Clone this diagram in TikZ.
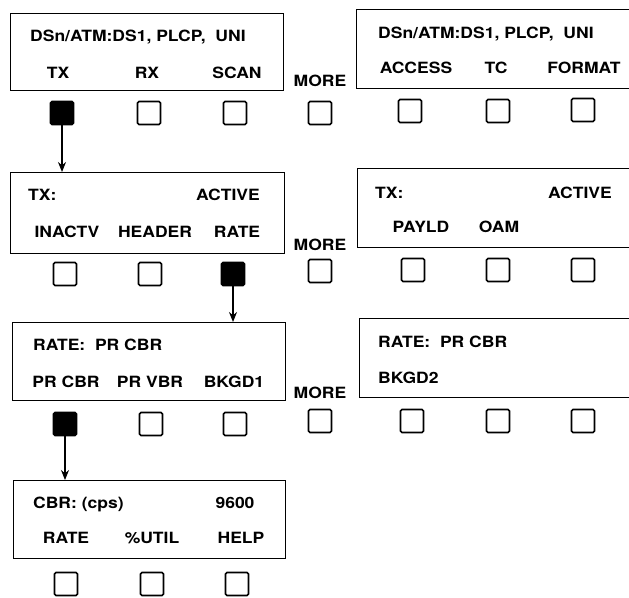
\documentclass[tikz,border=0pt]{standalone}
\usepackage{fontspec}
\setmainfont{TeX Gyre Heros}[BoldFeatures={FakeStretch=1.13}]
\usetikzlibrary{arrows.meta,positioning}

\tikzset{
  panel/.style={draw, line width=1.3pt, inner sep=0pt, anchor=north west},
  softkey/.style={draw, line width=1.6pt, rounded corners=1.5pt, minimum size=23pt, inner sep=0pt},
  pressed/.style={softkey, fill=black},
  lbl/.style={font=\fontsize{15.5}{18}\selectfont\bfseries, inner sep=0pt, anchor=base},
}

\begin{document}
\begin{tikzpicture}[x=1pt, y=-1pt, >={Stealth[length=10pt,width=8pt]}]
    \path[use as bounding box] (0,0) rectangle (629,597);
    \clip (0,0) rectangle (629,597);

    % Top level screen
    \node[panel, minimum width=273pt, minimum height=77pt] (p1) at (10,13) {};
    \node[lbl, anchor=base west] (p1t) at (30,41) {DSn/ATM:DS1, PLCP,\ \ UNI};
    \node[lbl] (p1a) at (58,78) {TX};
    \node[lbl] (p1b) at (147,78) {RX};
    \node[lbl] (p1c) at (237,78) {SCAN};
    \node[pressed] (k1a) at (62,113) {};
    \node[softkey] (k1b) at (149,113) {};
    \node[softkey] (k1c) at (235,113) {};

    \node[lbl] (m1) at (320,86) {MORE};
    \node[softkey] (km1) at (320,113) {};

    \node[panel, minimum width=300pt, minimum height=79pt] (p1r) at (356,9) {};
    \node[lbl, anchor=base west] (p1rt) at (378,38) {DSn/ATM:DS1, PLCP,\ \ UNI};
    \node[lbl] (p1rd) at (416,73) {ACCESS};
    \node[lbl] (p1re) at (496,73) {TC};
    \node[lbl] (p1rf) at (584,73) {FORMAT};
    \node[softkey] (k1d) at (410,111) {};
    \node[softkey] (k1e) at (498,111) {};
    \node[softkey] (k1f) at (583,110) {};

    % TX screen
    \node[panel, minimum width=274pt, minimum height=81pt] (p2) at (10,172) {};
    \node[lbl, anchor=base west] (p2t) at (28,200) {TX:};
    \node[lbl, anchor=base east] (p2s) at (260,200) {ACTIVE};
    \node[lbl] (p2a) at (67,237) {INACTV};
    \node[lbl] (p2b) at (155,237) {HEADER};
    \node[lbl] (p2c) at (237,237) {RATE};
    \node[softkey] (k2a) at (65,274) {};
    \node[softkey] (k2b) at (150,274) {};
    \node[pressed] (k2c) at (233,274) {};

    \node[lbl] (m2) at (320,250) {MORE};
    \node[softkey] (km2) at (320,271) {};

    \node[panel, minimum width=300pt, minimum height=79pt] (p2r) at (357,168) {};
    \node[lbl, anchor=base west] (p2rt) at (375,198) {TX:};
    \node[lbl, anchor=base east] (p2rs) at (612,198) {ACTIVE};
    \node[lbl] (p2rd) at (421,232) {PAYLD};
    \node[lbl] (p2re) at (499,232) {OAM};
    \node[softkey] (k2d) at (413,270) {};
    \node[softkey] (k2e) at (498,270) {};
    \node[softkey] (k2f) at (583,270) {};

    % RATE screen
    \node[panel, minimum width=273pt, minimum height=78pt] (p3) at (12,322) {};
    \node[lbl, anchor=base west] (p3t) at (33,350) {RATE:\ \ PR CBR};
    \node[lbl] (p3a) at (66,387) {PR CBR};
    \node[lbl] (p3b) at (150,387) {PR VBR};
    \node[lbl] (p3c) at (234,387) {BKGD1};
    \node[pressed] (k3a) at (65,424) {};
    \node[softkey] (k3b) at (151,424) {};
    \node[softkey] (k3c) at (235,424) {};

    \node[lbl] (m3) at (320,398) {MORE};
    \node[softkey] (km3) at (320,421) {};

    \node[panel, minimum width=300pt, minimum height=79pt] (p3r) at (359,318) {};
    \node[lbl, anchor=base west] (p3rt) at (378,347) {RATE:\ \ PR CBR};
    \node[lbl, anchor=base west] (p3rd) at (378,383) {BKGD2};
    \node[softkey] (k3d) at (412,421) {};
    \node[softkey] (k3e) at (498,421) {};
    \node[softkey] (k3f) at (583,421) {};

    % CBR screen
    \node[panel, minimum width=272pt, minimum height=78pt] (p4) at (13,480) {};
    \node[lbl, anchor=base west] (p4t) at (33,508) {CBR: (cps)};
    \node[lbl] (p4s) at (235,508) {9600};
    \node[lbl] (p4a) at (66,543) {RATE};
    \node[lbl] (p4b) at (152,543) {\%UTIL};
    \node[lbl] (p4c) at (241,543) {HELP};
    \node[softkey] (k4a) at (66,584) {};
    \node[softkey] (k4b) at (152,584) {};
    \node[softkey] (k4c) at (237,584) {};

    % Key presses
    \draw[->, line width=1.2pt] (k1a.south) -- (p2.north -| k1a);
    \draw[->, line width=1.2pt] (k2c.south) -- (p3.north -| k2c);
    \draw[->, line width=1.2pt] (k3a.south) -- (p4.north -| k3a);
\end{tikzpicture}
\end{document}
